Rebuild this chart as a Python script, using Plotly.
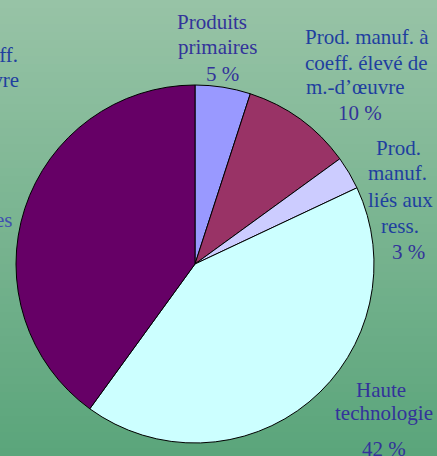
import plotly.graph_objects as go

# ---- data ----
categories = [
    "Produits primaires",
    "Prod. manuf. à coeff. élevé de m.-d’œuvre",
    "Prod. manuf. liés aux ress.",
    "Haute technologie",
    "Autres",
]
label_lines = [
    ["Produits", "primaires"],
    ["Prod. manuf. à", "coeff. élevé de", "m.-d’œuvre"],
    ["Prod.", "manuf.", "liés aux", "ress."],
    ["Haute", "technologie"],
    [],
]
shares = [5, 10, 3, 42, 40]
slice_colors = ["#9999FF", "#993366", "#CCCCFF", "#CCFFFF", "#660066"]

W, H = 437, 456

fig = go.Figure()
fig.add_trace(go.Pie(
    labels=categories,
    values=shares,
    sort=False,
    direction="clockwise",
    rotation=0,
    textinfo="none",
    hoverinfo="skip",
    showlegend=False,
    marker=dict(colors=slice_colors, line=dict(color="black", width=1)),
    domain=dict(x=[(195 - 179) / W, (195 + 179) / W],
                y=[(H - 264 - 179) / H, (H - 264 + 179) / H]),
))

# background gradient (bands)
top = (151, 195, 166)
bot = (91, 165, 123)
n = 57
shapes = []
for i in range(n):
    t = i / (n - 1)
    c = tuple(round(top[k] + (bot[k] - top[k]) * t) for k in range(3))
    shapes.append(dict(type="rect", xref="paper", yref="paper",
                       x0=0, x1=1, y0=1 - (i + 1) / n - 0.002, y1=1 - i / n,
                       fillcolor="rgb(%d,%d,%d)" % c, line=dict(width=0),
                       layer="below"))

FONT = "Liberation Serif, Times New Roman, serif"
C1 = "#33339A"
C2 = "#1F3F9F"

# (x center px list, y center px list, (pct x, pct y), color)
label_pos = [
    ([212, 217], [22, 47], (222, 74), C1),
    ([367, 366, 355], [37, 63, 87], (360, 113), C2),
    ([398, 397, 400, 400], [148, 173, 200, 226], (408, 252), C2),
    ([381, 384], [390, 413], (384, 449), C1),
]

annotations = []
for i, (xs, ys, (px, py), col) in enumerate(label_pos):
    for line, x, y in zip(label_lines[i], xs, ys):
        annotations.append(dict(text=line, x=x / W, y=1 - y / H, xref="paper", yref="paper",
                                xanchor="center", yanchor="middle", showarrow=False,
                                font=dict(family=FONT, size=21, color=col)))
    annotations.append(dict(text=f"{shares[i]} %", x=px / W, y=1 - py / H, xref="paper", yref="paper",
                            xanchor="center", yanchor="middle", showarrow=False,
                            font=dict(family=FONT, size=21, color=C1)))

# partial labels cut at the left edge (from neighbouring chart)
for text, x, y, col in [("coeff.", 20, 55, C2), ("d’œuvre", 21, 80, C2), ("ressources", 14, 220, "#4050B0")]:
    annotations.append(dict(text=text, x=x / W, y=1 - y / H, xref="paper", yref="paper",
                            xanchor="right", yanchor="middle", showarrow=False,
                            font=dict(family=FONT, size=21, color=col)))

fig.update_layout(
    width=W, height=H,
    margin=dict(l=0, r=0, t=0, b=0),
    paper_bgcolor="rgb(120,180,145)",
    plot_bgcolor="rgba(0,0,0,0)",
    shapes=shapes,
    annotations=annotations,
)

fig.write_html("out.html", config={"displayModeBar": False},
               post_script="document.body.style.margin='0';document.body.style.overflow='hidden';")
